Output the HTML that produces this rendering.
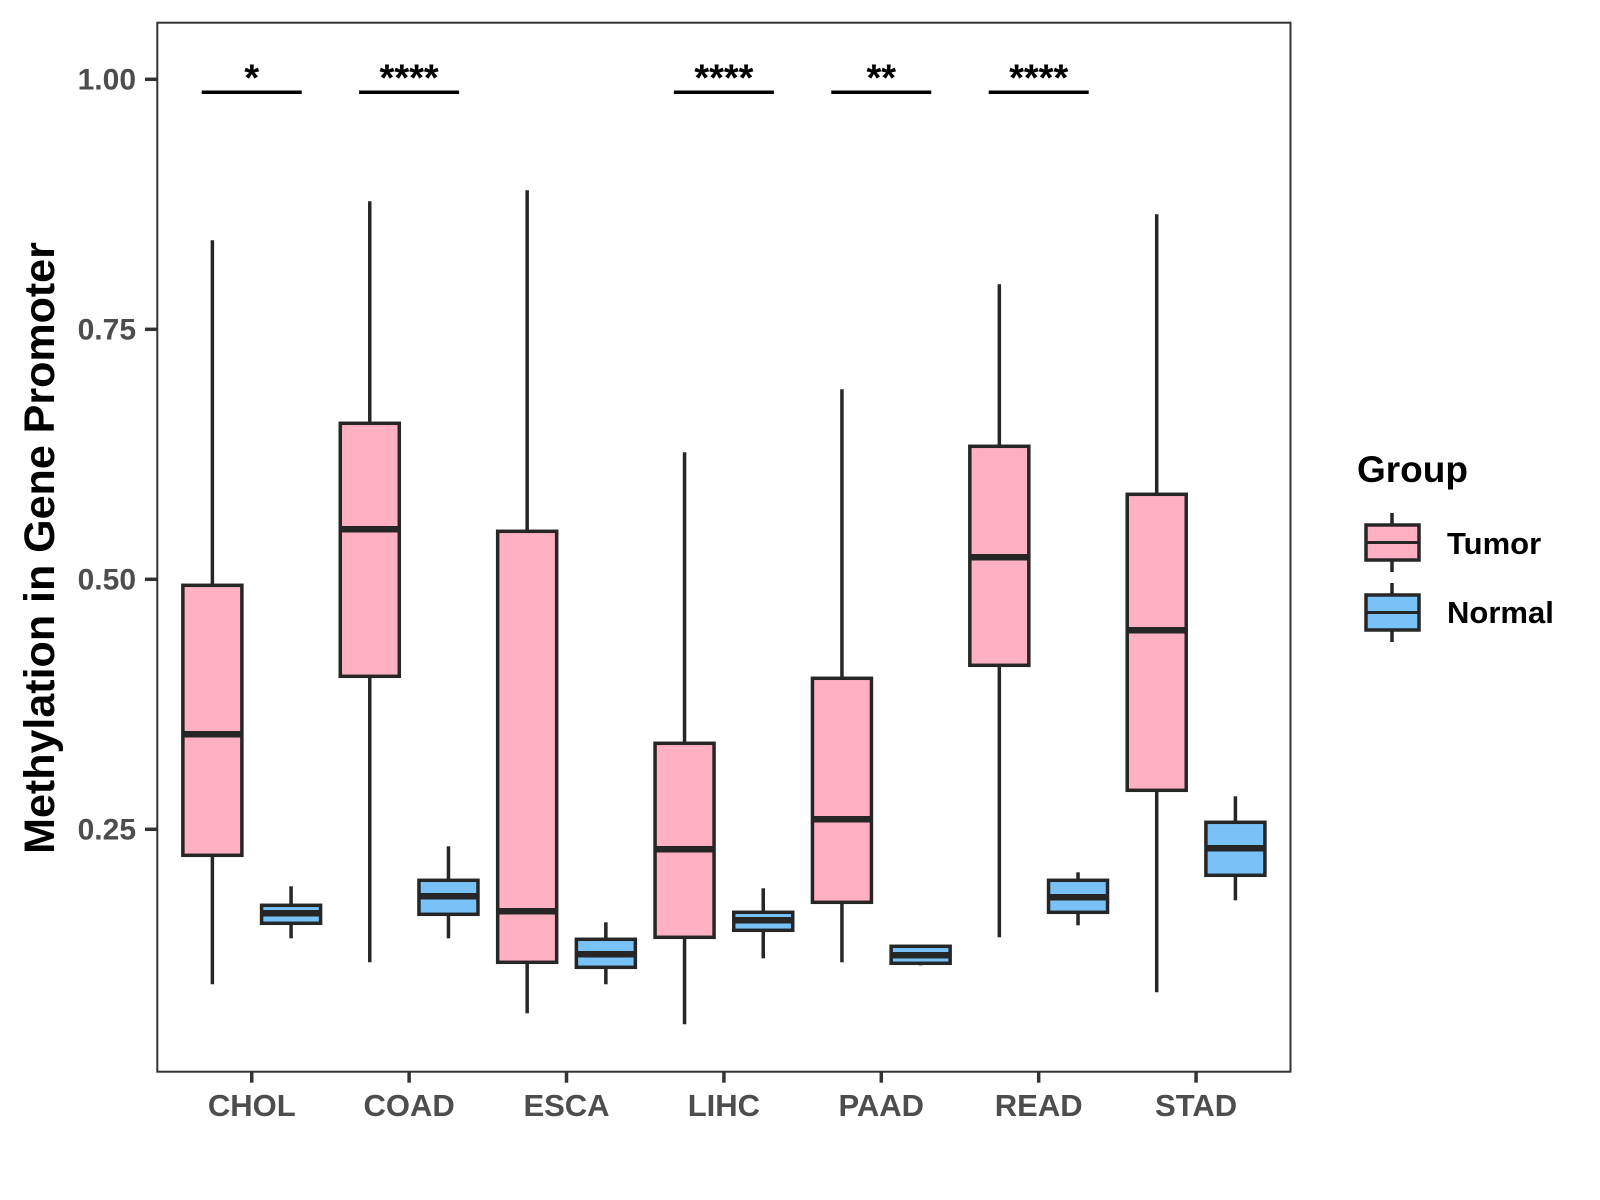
<!DOCTYPE html>
<html><head><meta charset="utf-8"><style>
html,body{margin:0;padding:0;background:#fff}
svg{display:block;font-family:"Liberation Sans",Arial,sans-serif}
</style></head><body>
<svg id="chart" width="1600" height="1200" viewBox="0 0 1600 1200">
<rect x="0" y="0" width="1600" height="1200" fill="#fff"/>
<g id="plot"></g>
<text transform="translate(54,548) rotate(-90)" text-anchor="middle" font-size="43" font-weight="bold" fill="#000">Methylation in Gene Promoter</text>
<g transform="translate(-6,-2)">
<text x="1363" y="484" font-size="37" font-weight="bold" fill="#000">Group</text>
<g>
<line x1="1398" y1="515" x2="1398" y2="574" stroke="#262626" stroke-width="3.5"/>
<rect x="1372" y="527" width="53" height="35" fill="#FFB0C3" stroke="#262626" stroke-width="3.5"/>
<line x1="1372" y1="544.5" x2="1425" y2="544.5" stroke="#262626" stroke-width="3"/>
<text x="1453" y="556" font-size="31" font-weight="bold" fill="#000">Tumor</text>
</g>
<g>
<line x1="1398" y1="585" x2="1398" y2="644" stroke="#262626" stroke-width="3.5"/>
<rect x="1372" y="597" width="53" height="35" fill="#78C2F8" stroke="#262626" stroke-width="3.5"/>
<line x1="1372" y1="614.5" x2="1425" y2="614.5" stroke="#262626" stroke-width="3"/>
<text x="1453" y="625" font-size="31" font-weight="bold" fill="#000">Normal</text>
</g>
</g>
</svg>
<script>
const categories = ["CHOL","COAD","ESCA","LIHC","PAAD","READ","STAD"];
const tumorLow = [0.095,0.117,0.066,0.055,0.117,0.142,0.087];
const tumorQ1 = [0.224,0.403,0.117,0.142,0.177,0.414,0.289];
const tumorMed = [0.345,0.550,0.168,0.230,0.260,0.522,0.449];
const tumorQ3 = [0.494,0.656,0.548,0.336,0.401,0.633,0.585];
const tumorHigh = [0.839,0.878,0.889,0.627,0.690,0.795,0.865];
const normalLow = [0.141,0.141,0.095,0.121,0.114,0.154,0.179];
const normalQ1 = [0.156,0.165,0.112,0.149,0.116,0.167,0.204];
const normalMed = [0.166,0.183,0.125,0.159,0.124,0.182,0.231];
const normalQ3 = [0.174,0.199,0.140,0.167,0.133,0.199,0.257];
const normalHigh = [0.193,0.233,0.157,0.191,0.134,0.207,0.283];
const sigLabels = ["*","****","","****","**","****",""];
const yTicks = [0.25,0.50,0.75,1.00];
const yTickLabels = ["0.25","0.50","0.75","1.00"];

const NS="http://www.w3.org/2000/svg";
const L=157.3,R=1290.5,T=22.7,B=1071.7;
const band=(R-L)/7.2;
function xScale(i){return L+band*(0.6+i);}
function yScale(v){return 1079.3-1000*v;}
const g=document.getElementById('plot');
function mk(tag,attrs,parent){const e=document.createElementNS(NS,tag);for(const k in attrs)e.setAttribute(k,attrs[k]);(parent||g).appendChild(e);return e;}

const border=mk('rect',{x:L,y:T,width:R-L,height:B-T,fill:'none',stroke:'#333',"stroke-width":2});



yTicks.forEach((v,i)=>{
  const y=yScale(v);
  const t=mk('line',{x1:145,x2:L,y1:y,y2:y,stroke:'#333',"stroke-width":3.5});
  
  
  const lb=mk('text',{x:136,y:y+10,"text-anchor":'end',"font-size":30,"font-weight":'bold',fill:'#4d4d4d'});
  lb.textContent=yTickLabels[i];
  
  
});

categories.forEach((c,i)=>{
  const x=xScale(i);
  const t=mk('line',{x1:x,x2:x,y1:B,y2:B+11,stroke:'#333',"stroke-width":3.5});
  
  
  const lb=mk('text',{x:x,y:1116,"text-anchor":'middle',"font-size":31,"font-weight":'bold',fill:'#4d4d4d'});
  lb.textContent=c;
  
  
});

function drawBox(cx,lo,q1,md,q3,hi,fill,name){
  const w=59;
  const grp=mk('g',{});
  
  
  mk('line',{x1:cx,x2:cx,y1:yScale(hi),y2:yScale(q3),stroke:'#262626',"stroke-width":3.5},grp);
  mk('line',{x1:cx,x2:cx,y1:yScale(q1),y2:yScale(lo),stroke:'#262626',"stroke-width":3.5},grp);
  mk('rect',{x:cx-w/2,y:yScale(q3),width:w,height:yScale(q1)-yScale(q3),fill:fill,stroke:'#262626',"stroke-width":3.5},grp);
  mk('line',{x1:cx-w/2,x2:cx+w/2,y1:yScale(md),y2:yScale(md),stroke:'#262626',"stroke-width":6.5},grp);
}
const off=band*0.25;
categories.forEach((c,i)=>{
  const x=xScale(i);
  drawBox(x-off,tumorLow[i],tumorQ1[i],tumorMed[i],tumorQ3[i],tumorHigh[i],'#FFB0C3','box-tumor-'+c.toLowerCase());
  drawBox(x+off,normalLow[i],normalQ1[i],normalMed[i],normalQ3[i],normalHigh[i],'#78C2F8','box-normal-'+c.toLowerCase());
  if(sigLabels[i]){
    const by=yScale(0.987);
    const ln=mk('line',{x1:x-50,x2:x+50,y1:by,y2:by,stroke:'#000',"stroke-width":3.5});
    
    
    const st=mk('text',{x:x,y:by-2,"text-anchor":'middle',"font-size":38,"font-weight":'bold',fill:'#000'});
    st.textContent=sigLabels[i];
    
    
  }
});
</script>
</body></html>
